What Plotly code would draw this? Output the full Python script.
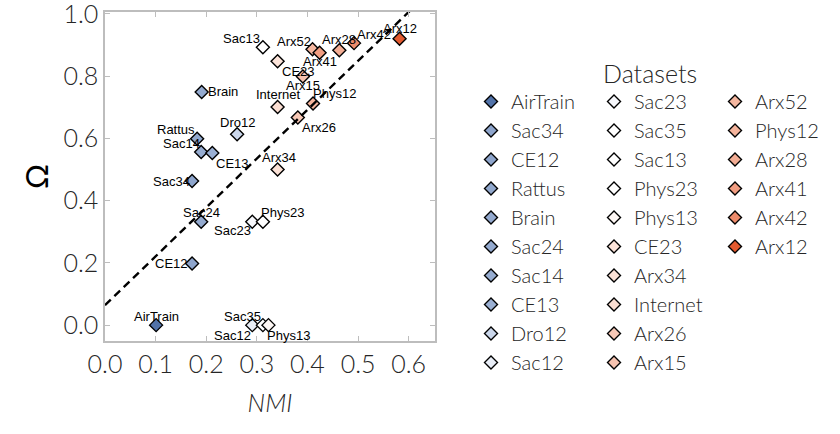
import numpy as np
import plotly.graph_objects as go

# ---------------- data ----------------
datasets = ["AirTrain", "Sac34", "CE12", "Rattus", "Brain", "Sac24", "Sac14", "CE13", "Dro12", "Sac12",
            "Sac23", "Sac35", "Sac13", "Phys23", "Phys13", "CE23", "Arx34", "Internet", "Arx26", "Arx15",
            "Arx52", "Phys12", "Arx28", "Arx41", "Arx42", "Arx12"]
nmi = [0.101, 0.172, 0.172, 0.182, 0.191, 0.190, 0.190, 0.212, 0.261, 0.291,
       0.291, 0.312, 0.312, 0.312, 0.323, 0.341, 0.341, 0.341, 0.381, 0.391,
       0.410, 0.411, 0.463, 0.424, 0.492, 0.582]
omega = [0.000, 0.463, 0.198, 0.599, 0.749, 0.332, 0.556, 0.553, 0.613, 0.000,
         0.332, 0.000, 0.893, 0.332, 0.000, 0.848, 0.500, 0.701, 0.667, 0.799,
         0.886, 0.712, 0.883, 0.875, 0.906, 0.920]
colors = ["#5273a9", "#8ea5cc", "#8ea5cc", "#91a8cd", "#94aacf", "#94aacf", "#96acd0", "#9bb0d3", "#cbd7eb", "#e9eef7",
          "#f7f8fc", "#ffffff", "#ffffff", "#ffffff", "#fef8f5", "#fce4da", "#fbe1d6", "#fbded2", "#f7c8b6", "#f6c3b0",
          "#f5b7a0", "#f5b49c", "#f3ad94", "#f19d81", "#ed8b6b", "#e35a2f"]
fit_intercept = 0.064
fit_slope = 1.57
fit_x = [0.0, 0.65]
x_ticks = [0.0, 0.1, 0.2, 0.3, 0.4, 0.5, 0.6]
y_ticks = [0.0, 0.2, 0.4, 0.6, 0.8, 1.0]

# ---------------- styles ----------------
# label offsets in screen px (dx right, dy down)
label_offsets = {
    "AirTrain": (0, -9), "Sac35": (-20, -9), "Sac12": (-20, 10), "Phys13": (20, 10),
    "CE12": (-21, 0), "Sac24": (0, -9), "Sac23": (-20, 9), "Phys23": (20, -9),
    "Sac34": (-21, 0), "Arx34": (1, -12), "CE13": (20, 10), "Sac14": (-20, -9),
    "Rattus": (-21, -9), "Dro12": (0, -12), "Brain": (21, 0), "Sac13": (-21, -9),
    "Internet": (0, -12), "CE23": (21, 10), "Arx15": (0, 9), "Phys12": (21, -10),
    "Arx26": (21, 10), "Arx52": (-19, -8), "Arx41": (0, 9), "Arx28": (0, -11),
    "Arx42": (20, -9), "Arx12": (0, -10),
}
W, H = 840, 434
L, R, T, B = 105, 435, 12, 341
FONT = "Lato"
TXT = "#262626"

fig = go.Figure()

legend_cols = ["legend", "legend2", "legend3"]
for i, name in enumerate(datasets):
    fig.add_trace(go.Scatter(
        x=[nmi[i]], y=[omega[i]], mode="markers", name=name,
        marker=dict(symbol="diamond", size=10, color=colors[i],
                    line=dict(color="#000000", width=1.4)),
        legend=legend_cols[min(i // 10, 2)],
        hoverinfo="name+x+y",
    ))

fit_x_arr = np.array(fit_x)
fig.add_trace(go.Scatter(
    x=fit_x_arr, y=fit_intercept + fit_slope * fit_x_arr, mode="lines",
    line=dict(color="#000000", width=2.4, dash="8px,5px"),
    showlegend=False, hoverinfo="skip",
))

for i, name in enumerate(datasets):
    dx, dy = label_offsets[name]
    fig.add_annotation(
        x=nmi[i], y=omega[i], text=name, showarrow=False,
        xshift=dx, yshift=-dy, xanchor="center", yanchor="middle",
        font=dict(family="Liberation Sans, Arial", size=13, color="#000000"),
    )

# legend title
fig.add_annotation(
    xref="paper", yref="paper", x=(650 - L) / (R - L), y=(B - 73) / (B - T),
    text="Datasets", showarrow=False, xanchor="center", yanchor="middle",
    font=dict(family=FONT, size=25, color=TXT, weight=300),
)

legend_common = dict(
    xref="container", yref="container", xanchor="left", yanchor="top",
    font=dict(family=FONT, size=20, color=TXT, weight=300),
    bgcolor="rgba(0,0,0,0)", tracegroupgap=0, itemclick=False, maxheight=400,
)
col_x = [471, 594, 715]
legend_top = 82
fig.update_layout(
    legend=dict(x=col_x[0] / W, y=1 - legend_top / H, **legend_common),
    legend2=dict(x=col_x[1] / W, y=1 - legend_top / H, **legend_common),
    legend3=dict(x=col_x[2] / W, y=1 - legend_top / H, **legend_common),
)

axis_common = dict(
    showgrid=False, zeroline=False, showline=True, linecolor="#bdbdbd", linewidth=1.5,
    mirror="ticks", ticks="inside", ticklen=5, tickcolor="#bdbdbd", tickwidth=1.2,
    tickfont=dict(family=FONT, size=25, color=TXT, weight=300),
    ticklabeloverflow="allow",
)
fig.update_xaxes(
    range=[0.0, 0.652], tickvals=x_ticks, ticktext=[f"{v:.1f}" for v in x_ticks],
    title=dict(text="<i>NMI</i>", font=dict(family=FONT, size=25, color=TXT, weight=300), standoff=18),
    **axis_common,
)
fig.update_yaxes(
    range=[-0.051, 1.006], tickvals=y_ticks, ticktext=[f"{v:.1f}" for v in y_ticks],
    title=dict(text="Ω", font=dict(family=FONT, size=31, color="#000000"), standoff=6),
    **axis_common,
)

fig.update_layout(
    width=W, height=H,
    margin=dict(l=L, r=W - R, t=T, b=H - B, autoexpand=False),
    plot_bgcolor="white", paper_bgcolor="white",
    showlegend=True,
)

fig.write_html("out.html")
